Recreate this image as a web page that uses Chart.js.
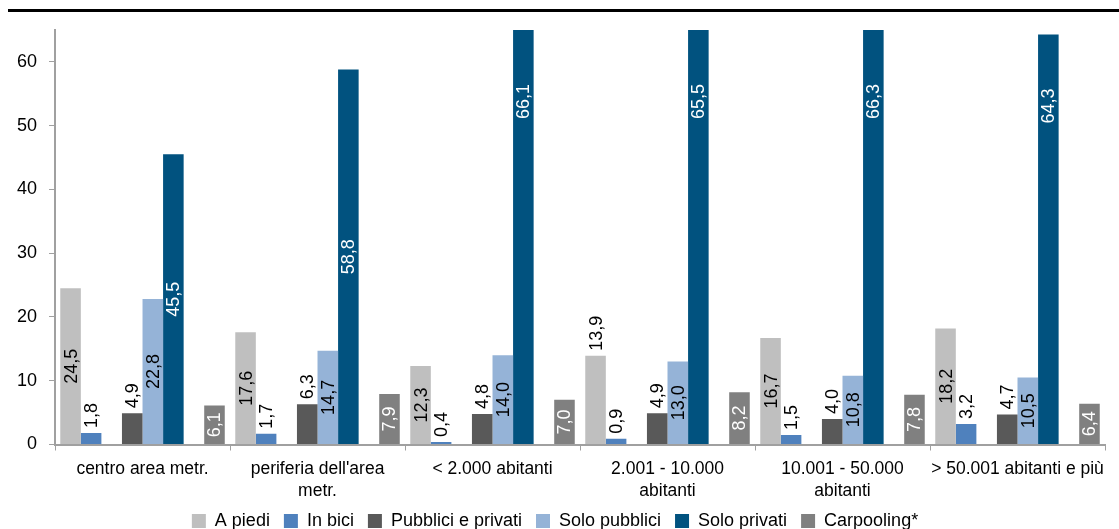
<!DOCTYPE html>
<html>
<head>
<meta charset="utf-8">
<script src="https://cdn.jsdelivr.net/npm/chart.js@4/dist/chart.umd.min.js"></script>
<style>
html,body{margin:0;padding:0;background:#fff;}
#wrap{width:1119px;height:529px;position:relative;}
</style>
</head>
<body>
<div id="wrap"><canvas id="c" width="1119" height="529"></canvas></div>
<script>
const categories = [
  "centro area metr.",
  ["periferia dell'area", "metr."],
  "< 2.000 abitanti",
  ["2.001 - 10.000", "abitanti"],
  ["10.001 - 50.000", "abitanti"],
  "> 50.001 abitanti e più"
];
const aPiedi = [24.5, 17.6, 12.3, 13.9, 16.7, 18.2];
const inBici = [1.8, 1.7, 0.4, 0.9, 1.5, 3.2];
const pubbliciEPrivati = [4.9, 6.3, 4.8, 4.9, 4.0, 4.7];
const soloPubblici = [22.8, 14.7, 14.0, 13.0, 10.8, 10.5];
const soloPrivati = [45.5, 58.8, 66.1, 65.5, 66.3, 64.3];
const carpooling = [6.1, 7.9, 7.0, 8.2, 7.8, 6.4];
const yTicks = [0, 10, 20, 30, 40, 50, 60];

const FONT = "'Liberation Sans', Arial, sans-serif";

// label placement per dataset: 'center' | 'out' | 'inEnd' ; overrides per point
const labelCfg = {
  "A piedi": {mode: 'center', color: '#000', over: {3: 'out'}},
  "In bici": {mode: 'out', color: '#000'},
  "Pubblici e privati": {mode: 'out', color: '#000'},
  "Solo pubblici": {mode: 'center', color: '#000'},
  "Solo privati": {mode: 'center', color: '#fff', over: {2: 'inEnd', 3: 'inEnd', 4: 'inEnd', 5: 'inEnd'}},
  "Carpooling*": {mode: 'center', color: '#fff'}
};

function ds(label, data, color) {
  return {label, data, backgroundColor: color, borderColor: color, borderWidth: 0};
}
const empty = () => ({label: '', data: categories.map(() => null), backgroundColor: 'rgba(0,0,0,0)'});

const datasets = [
  ds("A piedi", aPiedi, '#BFBFBF'),
  ds("In bici", inBici, '#4F81BD'),
  empty(),
  ds("Pubblici e privati", pubbliciEPrivati, '#595959'),
  ds("Solo pubblici", soloPubblici, '#95B3D7'),
  ds("Solo privati", soloPrivati, '#01527F'),
  empty(),
  ds("Carpooling*", carpooling, '#808080')
];

const topLine = {
  id: 'topLine',
  beforeDraw(chart) {
    const ctx = chart.ctx;
    ctx.save();
    ctx.fillStyle = '#000';
    ctx.fillRect(8, 9, chart.width - 8, 3);
    ctx.restore();
  }
};

const valueLabels = {
  id: 'valueLabels',
  afterDatasetsDraw(chart) {
    const ctx = chart.ctx;
    const area = chart.chartArea;
    ctx.save();
    ctx.font = '18px ' + FONT;
    ctx.textBaseline = 'middle';
    chart.data.datasets.forEach((d, i) => {
      const cfg = labelCfg[d.label];
      if (!cfg) return;
      const meta = chart.getDatasetMeta(i);
      meta.data.forEach((bar, j) => {
        const v = d.data[j];
        if (v == null) return;
        const txt = v.toFixed(1).replace('.', ',');
        const mode = (cfg.over && cfg.over[j]) || cfg.mode;
        const top = Math.max(bar.y, area.top);
        const bottom = bar.base;
        let y, align, color = cfg.color;
        if (mode === 'center') {
          y = (top + bottom) / 2; align = 'center';
        } else if (mode === 'out') {
          y = top - 5; align = 'left'; color = '#000';
        } else {
          y = top + 54; align = 'right';
        }
        ctx.save();
        ctx.translate(bar.x, y);
        ctx.rotate(-Math.PI / 2);
        ctx.textAlign = align;
        ctx.fillStyle = color;
        ctx.fillText(txt, 0, 1);
        ctx.restore();
      });
    });
    ctx.restore();
  }
};

new Chart(document.getElementById('c'), {
  type: 'bar',
  data: {labels: categories, datasets},
  plugins: [topLine, valueLabels],
  options: {
    responsive: false,
    animation: false,
    maintainAspectRatio: false,
    layout: {padding: {top: 30, right: 14, left: 5, bottom: -11}},
    datasets: {bar: {categoryPercentage: 0.94, barPercentage: 1.0}},
    plugins: {
      tooltip: {enabled: false},
      legend: {
        position: 'bottom',
        labels: {
          font: {family: FONT, size: 18},
          color: '#000',
          boxWidth: 14,
          boxHeight: 14,
          padding: 14,
          filter: item => item.text !== ''
        }
      }
    },
    scales: {
      x: {
        afterFit: s => { s.height -= 12; },
        grid: {display: true, drawOnChartArea: false, drawTicks: true, tickLength: 6, color: '#A0A0A0', lineWidth: 1},
        border: {display: true, color: '#A0A0A0', width: 2},
        ticks: {font: {family: FONT, size: 17.5, lineHeight: 1.3}, color: '#000', maxRotation: 0, autoSkip: false, padding: 7}
      },
      y: {
        min: 0, max: 65,
        afterBuildTicks: s => { s.ticks = yTicks.map(v => ({value: v})); },
        grid: {display: true, drawOnChartArea: false, drawTicks: true, tickLength: 6, color: '#A0A0A0'},
        border: {display: true, color: '#A0A0A0', width: 2},
        ticks: {font: {family: FONT, size: 18}, color: '#000', padding: 12}
      }
    }
  }
});
</script>
</body>
</html>
